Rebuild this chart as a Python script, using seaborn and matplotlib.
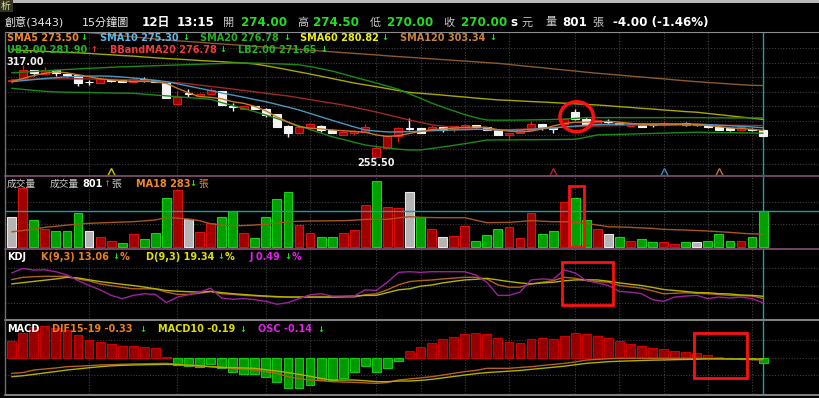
import numpy as np
import matplotlib
matplotlib.use("Agg")
import matplotlib.pyplot as plt
from matplotlib.patches import Ellipse, Rectangle
from matplotlib.lines import Line2D
import seaborn as sns

# ---------------------------
# DATA  (15-min bars, 創意 3443)
# ---------------------------
open_ = [306.5, 307.5, 314, 311, 313.5, 310.5, 310.5, 305.5, 305, 306.5,
         307, 306, 308, 307, 305, 291, 298, 296.5, 297.5, 299.5,
         289, 288, 289.5, 288, 284.5, 276.5, 272, 275, 276.5, 274,
         270.5, 272, 272.5, 255.5, 261.5, 270, 275, 275, 274, 276,
         274.5, 275.5, 277, 276, 274, 270.5, 271.5, 274, 278, 276,
         278, 285.5, 281, 278, 279.5, 278.5, 276.5, 278, 277, 278,
         277.5, 278.5, 277, 276.5, 276, 275, 274, 274.5, 274]
close = [307, 314, 312, 313.5, 311.5, 310.5, 305, 305.5, 307.5, 306.5,
         306, 308, 306.5, 305.5, 295, 296, 298, 298, 300.5, 290.5,
         289, 289.5, 288, 284, 276, 272, 275.5, 278, 274, 271.5,
         272.5, 273, 275.5, 261.5, 270, 275, 274.5, 272, 276, 274.5,
         276.5, 277, 275.5, 274, 270.5, 272, 274, 278, 275, 274.5,
         281, 281, 278, 280.5, 279, 277, 277.5, 276, 277, 278.5,
         278, 277, 277, 275.5, 274, 273.5, 275.5, 274, 270]
high = [308, 317, 314, 316, 313.5, 312, 310.5, 307, 307.5, 307.5,
        307, 309, 309, 307, 305, 299.5, 301, 298.5, 301.5, 300,
        291.5, 290, 290, 288.5, 284.5, 277, 276, 278.5, 277, 274.5,
        273, 274, 278, 264, 270.5, 275.5, 281.5, 275, 277, 276,
        276.5, 277.5, 277, 276, 274.5, 272, 274.5, 279.5, 278, 276,
        281.5, 288, 282.5, 281, 281, 279, 278, 278, 278, 280,
        278.5, 279, 277.5, 277, 276, 275, 276, 275, 274.5]
low = [305, 307.5, 309.5, 311, 309.5, 309, 303, 303.5, 305, 305.5,
       306, 305.5, 305.5, 305.5, 295, 291, 295.5, 296.5, 297.5, 290.5,
       286.5, 288, 287.5, 282.5, 276, 269, 272, 274.5, 272.5, 271.5,
       270.5, 270.5, 272.5, 255.5, 261.5, 266, 273.5, 272, 274, 272.5,
       272.5, 275.5, 275, 273.5, 270.5, 267, 271.5, 274, 274, 271.5,
       277.5, 280.5, 277.5, 277.5, 278, 277, 276, 275.5, 276, 276.5,
       277, 276.5, 276.5, 275, 273.5, 273, 273.5, 273, 270]

sma5 = [305.9, 308.0, 310.0, 311.5, 312.5, 311.8, 310.5, 309.2, 307.8, 307.0,
        306.5, 306.0, 306.2, 305.8, 304.8, 301.5, 298.5, 296.0, 295.5, 294.5,
        292.6, 291.5, 289.5, 286.5, 282.5, 279.0, 276.0, 275.0, 274.5, 273.8,
        273.3, 272.8, 272.3, 270.5, 269.5, 270.0, 271.5, 272.8, 274.0, 274.5,
        275.0, 275.5, 275.8, 275.5, 274.0, 273.0, 272.5, 273.0, 274.5, 276.5,
        278.0, 279.0, 279.0, 279.3, 279.5, 279.0, 278.2, 277.5, 277.2, 277.1,
        277.3, 277.6, 277.4, 276.8, 276.0, 275.2, 274.8, 274.2, 273.5]
sma10 = [305.9, 306.6, 307.3, 308.0, 308.6, 309.2, 309.4, 309.6, 309.7, 309.5,
         309.0, 308.4, 307.6, 306.8, 305.9, 304.5, 303.0, 301.5, 300.0, 298.4,
         297.0, 295.6, 294.0, 292.6, 290.8, 289.0, 287.1, 284.8, 282.5, 280.2,
         278.0, 275.8, 273.8, 273.0, 272.5, 272.5, 272.7, 273.0, 273.3, 273.6,
         273.8, 274.0, 274.2, 274.2, 273.8, 273.6, 273.8, 274.2, 274.7, 275.2,
         275.8, 276.4, 276.9, 277.3, 277.6, 277.8, 277.8, 277.9, 277.9, 277.9,
         277.9, 277.8, 277.7, 277.4, 277.0, 276.6, 276.2, 275.8, 275.3]
bb_mid = [307.2, 307.4, 307.6, 307.7, 307.8, 307.8, 307.8, 307.7, 307.6, 307.5,
          307.3, 307.0, 306.6, 306.2, 305.8, 305.3, 304.5, 303.6, 302.8, 301.9,
          301.0, 300.1, 299.2, 298.2, 297.3, 296.4, 295.2, 294.0, 292.8, 291.6,
          290.4, 288.8, 287.3, 285.7, 284.0, 282.2, 280.4, 278.9, 277.3, 276.3,
          275.6, 275.0, 274.5, 274.1, 273.8, 274.0, 274.3, 274.6, 274.9, 275.3,
          275.7, 276.0, 276.2, 276.4, 276.6, 276.8, 277.0, 277.1, 277.1, 277.2,
          277.2, 277.1, 277.1, 277.0, 277.0, 276.9, 276.9, 276.8, 276.78]
ub = [311.8, 312.2, 312.7, 313.1, 313.6, 314.0, 314.4, 314.8, 315.1, 315.5,
      315.8, 316.0, 316.3, 316.5, 316.8, 317.0, 317.3, 317.5, 317.8, 318.0,
      318.3, 318.3, 318.2, 318.0, 317.8, 317.5, 317.1, 316.0, 314.5, 313.0,
      311.0, 309.0, 307.0, 305.0, 303.0, 300.8, 297.8, 294.8, 291.7, 289.0,
      286.5, 284.0, 282.0, 280.4, 280.3, 280.3, 280.4, 280.5, 280.6, 280.8,
      281.0, 281.5, 282.0, 282.0, 282.0, 282.0, 282.0, 282.0, 282.0, 282.0,
      282.0, 282.0, 282.0, 281.9, 281.9, 281.8, 281.8, 281.85, 281.9]
lb = [301.5, 300.8, 300.1, 299.5, 299.1, 298.9, 298.8, 298.7, 298.5, 298.4,
      298.3, 298.2, 297.6, 297.0, 296.5, 295.9, 295.3, 294.8, 294.2, 292.0,
      290.0, 288.0, 286.0, 283.8, 281.4, 279.0, 276.6, 274.1, 271.7, 269.3,
      267.5, 265.6, 263.8, 262.8, 261.9, 261.0, 260.5, 260.5, 261.5, 262.5,
      263.6, 264.7, 265.9, 267.1, 267.2, 267.2, 267.3, 267.3, 267.4, 267.4,
      267.5, 267.6, 269.0, 270.5, 270.7, 270.9, 271.1, 271.3, 271.5, 271.7,
      271.9, 272.1, 272.3, 272.2, 272.1, 272.0, 271.9, 271.8, 271.65]
sma60 = [327.2, 326.7, 326.4, 326.0, 325.7, 325.4, 325.1, 324.7, 324.2, 323.8,
         323.3, 322.9, 322.3, 321.8, 321.3, 320.9, 320.5, 320.0, 319.6, 319.2,
         318.7, 318.3, 317.7, 316.5, 315.2, 313.8, 312.4, 311.0, 309.5, 308.0,
         306.5, 305.0, 303.8, 302.6, 301.3, 300.0, 298.8, 298.2, 297.6, 297.0,
         296.3, 295.7, 295.0, 294.4, 293.8, 293.5, 293.1, 292.7, 292.4, 292.0,
         291.6, 291.2, 290.8, 290.4, 289.9, 289.3, 288.8, 288.2, 287.7, 287.1,
         286.6, 286.0, 285.6, 284.8, 284.0, 283.2, 282.4, 281.6, 280.82]
sma120 = [343.5, 342.8, 342.0, 341.3, 340.6, 339.9, 339.2, 338.5, 337.8, 337.1,
          336.4, 335.7, 335.0, 334.3, 333.6, 333.1, 332.6, 332.1, 331.5, 331.0,
          330.5, 330.0, 329.4, 328.9, 328.4, 327.9, 327.3, 326.8, 326.3, 325.8,
          325.2, 324.7, 324.2, 323.7, 323.1, 322.6, 322.1, 321.6, 321.1, 320.6,
          320.1, 319.6, 319.1, 318.6, 318.1, 317.4, 316.6, 315.9, 315.2, 314.4,
          313.7, 313.0, 312.2, 311.5, 310.9, 310.3, 309.6, 309.0, 308.4, 307.8,
          307.1, 306.5, 305.9, 305.4, 304.9, 304.4, 303.9, 303.5, 303.34]

volume = [668, 1298, 594, 393, 356, 356, 742, 356, 208, 134,
          74, 282, 171, 297, 1076, 1261, 608, 334, 519, 653,
          801, 297, 186, 653, 1053, 1224, 482, 297, 208, 223,
          297, 371, 927, 1469, 875, 853, 1224, 668, 386, 223,
          245, 460, 134, 260, 393, 445, 186, 742, 282, 356,
          1002, 1091, 594, 393, 282, 223, 134, 163, 96, 96,
          59, 96, 111, 134, 282, 126, 126, 208, 801]
vol_color = list("WRGRGGGWRR" "GRGGGRWRRG" "GRGGGGRRGG" "RRRGRRWGRW"
                 "RRGGGRRRGG" "RGGRWGRGGR" "RGWGGGRGG")
vol_ma18 = [330, 360, 390, 430, 455, 480, 505, 519, 530, 540,
            548, 556, 575, 594, 653, 635, 615, 580, 510, 480,
            467, 470, 482, 500, 519, 556, 565, 571, 574, 576,
            579, 590, 608, 608, 608, 640, 668, 653, 648, 645,
            645, 645, 590, 534, 538, 542, 560, 579, 568, 556,
            556, 542, 519, 482, 445, 438, 430, 418, 408, 386,
            378, 371, 360, 349, 334, 319, 300, 285, 283]

k_line = [67.6, 74.3, 76.0, 77.1, 77.1, 77.1, 69.5, 64.0, 55.2, 50.0,
          45.5, 41.0, 41.0, 41.0, 31.4, 24.8, 24.8, 28.0, 33.3, 26.7,
          25.0, 21.9, 20.5, 19.0, 17.1, 17.1, 17.1, 17.1, 17.1, 17.1,
          17.1, 17.1, 23.8, 26.7, 38.0, 52.4, 61.9, 64.8, 66.5, 69.5,
          72.0, 74.3, 74.3, 69.5, 52.4, 45.7, 45.7, 55.2, 60.0, 64.8,
          74.3, 71.4, 64.8, 61.9, 60.0, 50.5, 46.5, 42.9, 35.0, 26.7,
          28.0, 29.5, 28.0, 26.7, 24.5, 21.9, 21.0, 20.0, 13.06]
d_line = [55.2, 58.8, 62.4, 66.0, 69.5, 74.3, 72.4, 67.0, 61.9, 58.0,
          54.0, 50.5, 46.0, 41.0, 36.2, 34.0, 32.5, 31.4, 33.3, 30.0,
          26.7, 24.5, 22.0, 20.0, 18.5, 17.1, 17.1, 17.1, 17.1, 17.1,
          18.5, 20.0, 21.9, 21.9, 30.0, 38.0, 41.0, 48.6, 52.0, 58.1,
          62.5, 66.7, 68.5, 71.4, 66.7, 62.0, 58.1, 55.2, 58.0, 60.0,
          64.0, 66.7, 67.0, 66.7, 63.0, 58.1, 54.0, 50.5, 45.0, 39.0,
          36.0, 33.3, 30.0, 29.5, 27.0, 26.0, 23.0, 21.9, 19.34]
j_line = [86.7, 100.0, 95.2, 96.2, 90.5, 81.0, 64.8, 50.5, 38.1, 21.9,
          12.4, 21.9, 26.7, 24.8, 1.0, 17.1, 23.8, 31.4, 42.9, 14.3,
          10.5, 12.4, 9.5, 4.8, -3.8, 1.0, 12.4, 23.8, 26.7, 20.0,
          20.0, 20.0, 38.1, 36.2, 60.0, 88.6, 90.5, 88.6, 90.5, 90.5,
          90.5, 90.5, 81.0, 60.0, 21.9, 21.9, 31.4, 66.7, 69.5, 67.6,
          96.2, 86.7, 64.8, 58.1, 50.5, 33.3, 31.4, 26.7, 9.5, 4.8,
          17.1, 20.0, 21.9, 12.4, 17.1, 14.3, 17.1, 12.4, 0.49]

dif = [-2.21, -2.10, -1.74, -1.60, -1.45, -1.27, -1.20, -1.12, -1.03, -0.98,
       -0.93, -0.89, -0.86, -0.83, -0.80, -0.94, -1.13, -1.20, -1.27, -1.40,
       -1.50, -1.62, -1.74, -1.97, -2.21, -2.68, -2.95, -3.15, -3.25, -3.38,
       -3.43, -3.48, -3.55, -3.62, -3.50, -3.15, -3.00, -2.85, -2.68, -2.45,
       -2.20, -1.97, -1.80, -1.50, -1.50, -1.50, -1.38, -1.27, -1.10, -0.95,
       -0.80, -0.60, -0.33, -0.25, -0.15, -0.09, -0.09, -0.09, -0.09, -0.09,
       -0.09, -0.09, -0.09, -0.12, -0.15, -0.19, -0.24, -0.28, -0.33]
macd = [-2.68, -2.55, -2.35, -2.15, -1.95, -1.74, -1.58, -1.42, -1.27, -1.15,
        -1.08, -1.03, -1.00, -0.97, -0.94, -0.97, -1.05, -1.13, -1.27, -1.36,
        -1.41, -1.45, -1.50, -1.70, -1.88, -2.10, -2.35, -2.62, -2.91, -3.15,
        -3.15, -3.15, -3.25, -3.38, -3.38, -3.29, -3.29, -3.20, -3.06, -2.85,
        -2.65, -2.45, -2.25, -2.10, -2.00, -1.90, -1.80, -1.65, -1.50, -1.35,
        -1.20, -1.00, -0.80, -0.68, -0.56, -0.50, -0.45, -0.40, -0.35, -0.32,
        -0.28, -0.25, -0.22, -0.17, -0.175, -0.18, -0.18, -0.185, -0.19]
osc = [0.47, 0.69, 0.87, 0.89, 0.83, 0.78, 0.64, 0.50, 0.43, 0.39,
       0.34, 0.34, 0.29, 0.26, 0.02, -0.21, -0.23, -0.25, -0.19, -0.30,
       -0.41, -0.47, -0.47, -0.54, -0.68, -0.85, -0.86, -0.77, -0.63, -0.63,
       -0.56, -0.41, -0.23, -0.41, -0.30, -0.09, 0.19, 0.29, 0.42, 0.52,
       0.57, 0.66, 0.69, 0.66, 0.55, 0.43, 0.42, 0.52, 0.55, 0.52,
       0.61, 0.69, 0.66, 0.61, 0.56, 0.47, 0.39, 0.33, 0.26, 0.24,
       0.20, 0.17, 0.12, 0.08, 0.02, -0.01, -0.02, -0.03, -0.14]

grid_bars = [7, 15, 23, 27, 33, 37, 41, 45, 51, 55, 59, 63, 67]
marker_bars = [9, 49, 59, 64]
marker_colors = ['#c8c800', '#b02040', '#3a88b8', '#c07028']

# ---------------------------
# STYLE
# ---------------------------
sns.set_style("dark")
plt.rcParams['font.family'] = ['DejaVu Sans', 'Noto Sans CJK TC']

W, H = 820, 398
X0, X1 = -0.56, 73.15
n = len(close)
idx = np.arange(n)
GREEN_T, RED_T = '#1ee01e', '#ff2a2a'
CYAN = '#1aa0a0'

fig = plt.figure(figsize=(W / 100, H / 100), dpi=100)
fig.patch.set_facecolor('black')


def panel(top, bottom):
    ax = fig.add_axes([5.5 / W, 1 - bottom / H, (W - 5.5) / W, (bottom - top) / H])
    ax.set_facecolor('black')
    for s in ax.spines.values():
        s.set_visible(False)
    return ax


def finish(ax, ylim, yticks):
    ax.set_xlim(X0, X1)
    ax.set_ylim(*ylim)
    ax.set_xticks(grid_bars)
    ax.set_yticks(yticks)
    ax.tick_params(length=0, labelbottom=False, labelleft=False)
    ax.grid(True, color='#3e3e3e', lw=0.8, ls=(0, (1, 1.5)))
    ax.set_xlabel('')
    ax.set_ylabel('')


def line(ax, y, color, lw=1.0, z=3):
    sns.lineplot(x=idx, y=y, ax=ax, color=color, lw=lw, legend=False, zorder=z)


def ftext(x, y, s, color, size=7, weight='bold'):
    fig.text(x / W, 1 - y / H, s, color=color, fontsize=size, fontweight=weight,
             va='center', ha='left')


def arrow(vals):
    return ('↑', RED_T) if vals[-1] > vals[-2] else ('↓', GREEN_T)


def atext(x, y, vals):
    a, ac = arrow(vals)
    ftext(x, y, a, ac, 6)


def hline_px(y, x0, x1, color, lw):
    fig.add_artist(Line2D([x0 / W, x1 / W], [1 - y / H, 1 - y / H], color=color, lw=lw))


# ---------------------------
# PRICE PANEL
# ---------------------------
ax_p = panel(32, 175)
o, c, h, l = map(np.array, (open_, close, high, low))
up = c > o
ax_p.axvline(idx[-1], color=CYAN, lw=1, zorder=1.5)
ax_p.vlines(idx, l, h, colors=['#e01818' if u else '#f2f2f2' for u in up], lw=1, zorder=2)
ax_p.bar(idx, np.maximum(np.abs(c - o), 0.5), bottom=np.minimum(o, c), width=0.72,
         color=['#a00000' if u else '#f2f2f2' for u in up],
         edgecolor=['#e01818' if u else '#f2f2f2' for u in up], lw=0.8, zorder=2.5)
line(ax_p, sma120, '#8c5a2c')
line(ax_p, sma60, '#a8a800')
line(ax_p, ub, '#1a8a1a')
line(ax_p, lb, '#1a8a1a')
line(ax_p, bb_mid, '#a02828')
line(ax_p, sma10, '#4a98c0')
line(ax_p, sma5, '#c87828')
finish(ax_p, (243.86, 338.94), [328.2, 318.5, 309.2, 299.2, 289.7, 280.0, 270.5, 261.0, 251.2])

ihi, ilo = int(np.argmax(h)), int(np.argmin(l))
ax_p.text(ihi + 0.25, h[ihi] - 1.0, f"{h[ihi]:.2f}", color='#f0f0f0', fontsize=7,
          fontweight='bold', ha='center', va='bottom', zorder=5)
ax_p.text(ilo, l[ilo] - 0.3, f"{l[ilo]:.2f}", color='#f0f0f0', fontsize=7,
          fontweight='bold', ha='center', va='top', zorder=5)
for b, col in zip(marker_bars, marker_colors):
    ax_p.plot(b, 0.022, marker='^', ms=6, mfc='none', mec=col, mew=1,
              transform=ax_p.get_xaxis_transform(), clip_on=False)
ax_p.add_patch(Ellipse((51.13, 282.6), 3.02, 19.9, fill=False, ec='#ff1010', lw=2.5, zorder=6))

# ---------------------------
# VOLUME PANEL
# ---------------------------
ax_v = panel(176, 248)
vc = {'R': ('#a00000', '#d81010'), 'G': ('#00a000', '#18d018'), 'W': ('#b4b4b4', '#e8e8e8')}
ax_v.axvline(idx[-1], color=CYAN, lw=1, zorder=1.5)
ax_v.bar(idx, volume, width=0.8, color=[vc[k][0] for k in vol_color],
         edgecolor=[vc[k][1] for k in vol_color], lw=0.8, zorder=2)
line(ax_v, vol_ma18, '#a8561e')
ax_v.axhline(volume[-1], color=CYAN, lw=1, zorder=2.8)
ax_v.add_patch(Rectangle((50.44, -13), 1.36, 1363, fill=False, ec='#ff1010', lw=2, zorder=6))
finish(ax_v, (-29, 1573), [500, 1000])

# ---------------------------
# KDJ PANEL
# ---------------------------
ax_k = panel(249, 320)
ax_k.axvline(idx[-1], color=CYAN, lw=1, zorder=1.5)
line(ax_k, k_line, '#b4601c')
line(ax_k, d_line, '#b4b400')
line(ax_k, j_line, '#a020a0')
ax_k.add_patch(Rectangle((49.77, -6.6), 4.62, 126.6, fill=False, ec='#ff1010', lw=2, zorder=6))
finish(ax_k, (-49.4, 156.3), [0, 50, 100])

# ---------------------------
# MACD PANEL
# ---------------------------
ax_m = panel(321, 394)
ax_m.axvline(idx[-1], color=CYAN, lw=1, zorder=1.5)
pos = np.array(osc) >= 0
ax_m.bar(idx, osc, width=0.8, color=['#960000' if p else '#009a00' for p in pos],
         edgecolor=['#cc0000' if p else '#10c810' for p in pos], lw=0.8, zorder=2)
finish(ax_m, (-1.024, 1.035), [-0.5, 0, 0.5])
ax_l = ax_m.twinx()
ax_l.set_facecolor('none')
for s in ax_l.spines.values():
    s.set_visible(False)
line(ax_l, dif, '#b86020')
line(ax_l, macd, '#b0b000')
ax_l.add_patch(Rectangle((61.77, -2.82), 4.75, 6.26, fill=False, ec='#ff1010', lw=2, zorder=6))
ax_l.set_xlim(X0, X1)
ax_l.set_ylim(-5.12, 5.17)
ax_l.set_yticks([])
ax_l.grid(False)
ax_l.tick_params(length=0, labelright=False)
ax_l.set_ylabel('')

# ---------------------------
# FRAME LINES
# ---------------------------
fig.add_artist(Rectangle((13 / W, 1 - 3 / H), (W - 13) / W, 3 / H, transform=fig.transFigure,
                         color='#b8b8b8', lw=0))
fig.add_artist(Rectangle((0, 1 - 12 / H), 13 / W, 12 / H, transform=fig.transFigure,
                         color='#34341c', lw=0))
fig.text(1 / W, 1 - 6 / H, "析", color='#e0e0b0', fontsize=7, va='center', ha='left')
hline_px(32, 5, W, '#8c8c8c', 0.8)
hline_px(175.8, 5, W, '#7a4a6c', 1.3)
hline_px(248.5, 5, W, '#7a4a6c', 1.3)
hline_px(320.3, 5, W, '#808080', 1.5)
hline_px(394.6, 5, W, '#808080', 1.5)
fig.add_artist(Line2D([5.5 / W, 5.5 / W], [1 - 394 / H, 1 - 32 / H], color='#707070', lw=1))

# ---------------------------
# HEADER
# ---------------------------
chg = close[-1] - close[-2]
pct = chg / close[-2] * 100
hy = 22.5
GRAY = '#c8c8c8'
ftext(5, hy, "創意(3443)", '#e8e8e8', 8, 'normal')
ftext(82, hy, "15分鐘圖", '#e8e8e8', 8, 'normal')
ftext(142, hy, "12日", 'white', 8.6)
ftext(177, hy, "13:15", 'white', 8.6)
for lab, x_lab, val, x_val in [("開", 223, open_[-1], 241), ("高", 297, high[-1], 313),
                               ("低", 370, low[-1], 387), ("收", 443, close[-1], 461)]:
    ftext(x_lab, hy, lab, GRAY, 8, 'normal')
    ftext(x_val, hy, f"{val:.2f}", GREEN_T, 8.6)
ftext(510, hy, "s", 'white', 8.6)
ftext(522, hy, "元", GRAY, 8, 'normal')
ftext(545, hy, "量", GRAY, 8, 'normal')
ftext(562, hy, f"{volume[-1]}", 'white', 8.6)
ftext(592, hy, "張", GRAY, 8, 'normal')
ftext(613, hy, f"{chg:.2f} ({pct:.2f}%)", 'white', 8.6)

# price legends
for name, vals, col, x_t, x_a, y in [
        ("SMA5", sma5, '#f08a24', 7, 80, 38.0),
        ("SMA10", sma10, '#5ab8ec', 100, 182, 38.0),
        ("SMA20", bb_mid, '#22b422', 200, 283, 38.0),
        ("SMA60", sma60, '#f0f000', 300, 381, 38.0),
        ("SMA120", sma120, '#c8843c', 400, 489, 38.0),
        ("UB2.00", ub, '#22b422', 7, 90, 50.0),
        ("BBandMA20", bb_mid, '#f03c3c', 110, 219, 50.0),
        ("LB2.00", lb, '#22b422', 238, 320, 50.0)]:
    ftext(x_t, y, f"{name} {vals[-1]:.2f}", col)
    atext(x_a, y, vals)

# volume legend
ftext(7, 184, "成交量", GRAY, 7, 'normal')
ftext(50, 184, "成交量", GRAY, 7, 'normal')
ftext(82, 184, f"{volume[-1]}", 'white')
atext(103, 184, volume)
ftext(111, 184, "張", GRAY, 7, 'normal')
ftext(136, 184, f"MA18 {vol_ma18[-1]}", '#f08a24')
atext(189, 184, vol_ma18)
ftext(198, 184, "張", '#f08a24', 7, 'normal')

# KDJ legend
ftext(7, 256.5, "KDJ", 'white')
for lab, vals, col, x_t, x_a in [("K(9,3)", k_line, '#e8801e', 41, 112),
                                 ("D(9,3)", d_line, '#e0e000', 146, 217),
                                 ("J", j_line, '#e020e8', 250, 284)]:
    ftext(x_t, 256.5, f"{lab} {vals[-1]:.2f}", col)
    atext(x_a, 256.5, vals)
    ftext(x_a + 8, 256.5, "%", col)

# MACD legend
ftext(7, 329, "MACD", 'white')
for lab, vals, col, x_t, x_a in [("DIF15-19", dif, '#e8801e', 52, 139),
                                 ("MACD10", macd, '#e0e000', 158, 239),
                                 ("OSC", osc, '#e020e8', 258, 317)]:
    ftext(x_t, 329, f"{lab} {vals[-1]:.2f}", col)
    atext(x_a, 329, vals)

fig.savefig("out.png", dpi=100, facecolor='black')
